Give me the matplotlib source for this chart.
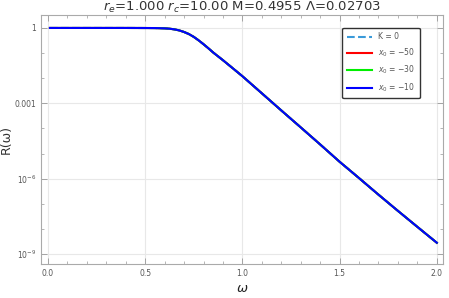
import matplotlib
matplotlib.use("Agg")
import matplotlib.pyplot as plt
from matplotlib.lines import Line2D

# values
omega = [0.01, 0.1, 0.2, 0.3, 0.4, 0.5, 0.55, 0.6, 0.625, 0.65, 0.675, 0.7,
         0.725, 0.75, 0.775, 0.8, 0.825, 0.85, 0.9, 0.95, 1.0, 1.1, 1.2, 1.3,
         1.4, 1.5, 1.6, 1.7, 1.8, 1.9, 2.0]
R_curve = [1.0, 1.0, 1.0, 1.0, 1.0, 0.995, 0.99, 0.965, 0.935, 0.88, 0.8, 0.69,
           0.57, 0.44, 0.32, 0.225, 0.155, 0.105, 0.052, 0.025, 0.012, 2.5e-3,
           5.2e-4, 1.1e-4, 2.3e-5, 4.7e-6, 1.05e-6, 2.3e-7, 5.2e-8, 1.2e-8, 2.8e-9]
labels = ["K = 0", "$x_0$ = −50", "$x_0$ = −30", "$x_0$ = −10"]
colors = ["#3a9ad9", "#ff0000", "#00ee00", "#0000ff"]
styles = ["--", "-", "-", "-"]
ytick_vals = [1, 1e-3, 1e-6, 1e-9]
ytick_labels = ["1", "0.001", "$10^{-6}$", "$10^{-9}$"]
xtick_vals = [0.0, 0.5, 1.0, 1.5, 2.0]

fig = plt.figure(figsize=(4.49, 2.98), dpi=100)
ax = fig.add_axes([0.0913, 0.114, 0.895, 0.836])

for lab, c, ls in zip(labels, colors, styles):
    ax.plot(omega, R_curve, color=c, ls=ls, lw=1.5)

ax.set_yscale("log")
ax.set_xlim(-0.036, 2.031)
ax.set_ylim(10 ** -9.40, 10 ** 0.52)

ax.set_xticks(xtick_vals)
ax.set_xticklabels(["%.1f" % v for v in xtick_vals])
ax.set_xticks([i / 10 for i in range(21)], minor=True)
ax.set_yticks(ytick_vals)
ax.set_yticklabels(ytick_labels)
ax.set_yticks([10.0 ** -k for k in range(10) if k % 3], minor=True)
ax.yaxis.set_minor_formatter(plt.NullFormatter())

ax.tick_params(which="both", direction="in", top=True, right=True,
               colors="#999999", labelcolor="#555555", labelsize=5.5)
ax.tick_params(which="major", length=4, width=0.6)
ax.tick_params(which="minor", length=2, width=0.5)
for s in ax.spines.values():
    s.set_color("#aaaaaa")
    s.set_linewidth(0.8)

for v in xtick_vals:
    ax.axvline(v, color="#e8e8e8", lw=0.8, zorder=0)
for v in ytick_vals:
    ax.axhline(v, color="#e8e8e8", lw=0.8, zorder=0)

ax.set_title("$r_e$=1.000 $r_c$=10.00 M=0.4955 Λ=0.02703", fontsize=9.5,
             color="#333333", pad=1)
ax.set_ylabel("R(ω)", fontsize=9, color="#333333", labelpad=1)
ax.set_xlabel("ω", fontsize=9.5, style="italic", color="#222222", labelpad=3)

handles = [Line2D([], [], color=c, ls=ls, lw=1.5) for c, ls in zip(colors, styles)]
leg = ax.legend(handles, labels, loc="upper right", bbox_to_anchor=(0.943, 0.948),
                fontsize=5.5, frameon=True, fancybox=True, edgecolor="black",
                handlelength=3.3, labelspacing=0.65, borderpad=0.6, handletextpad=0.8,
                borderaxespad=0)
leg.get_frame().set_linewidth(1.0)
for t in leg.get_texts():
    t.set_color("#555555")

fig.savefig("out.png", dpi=100)
